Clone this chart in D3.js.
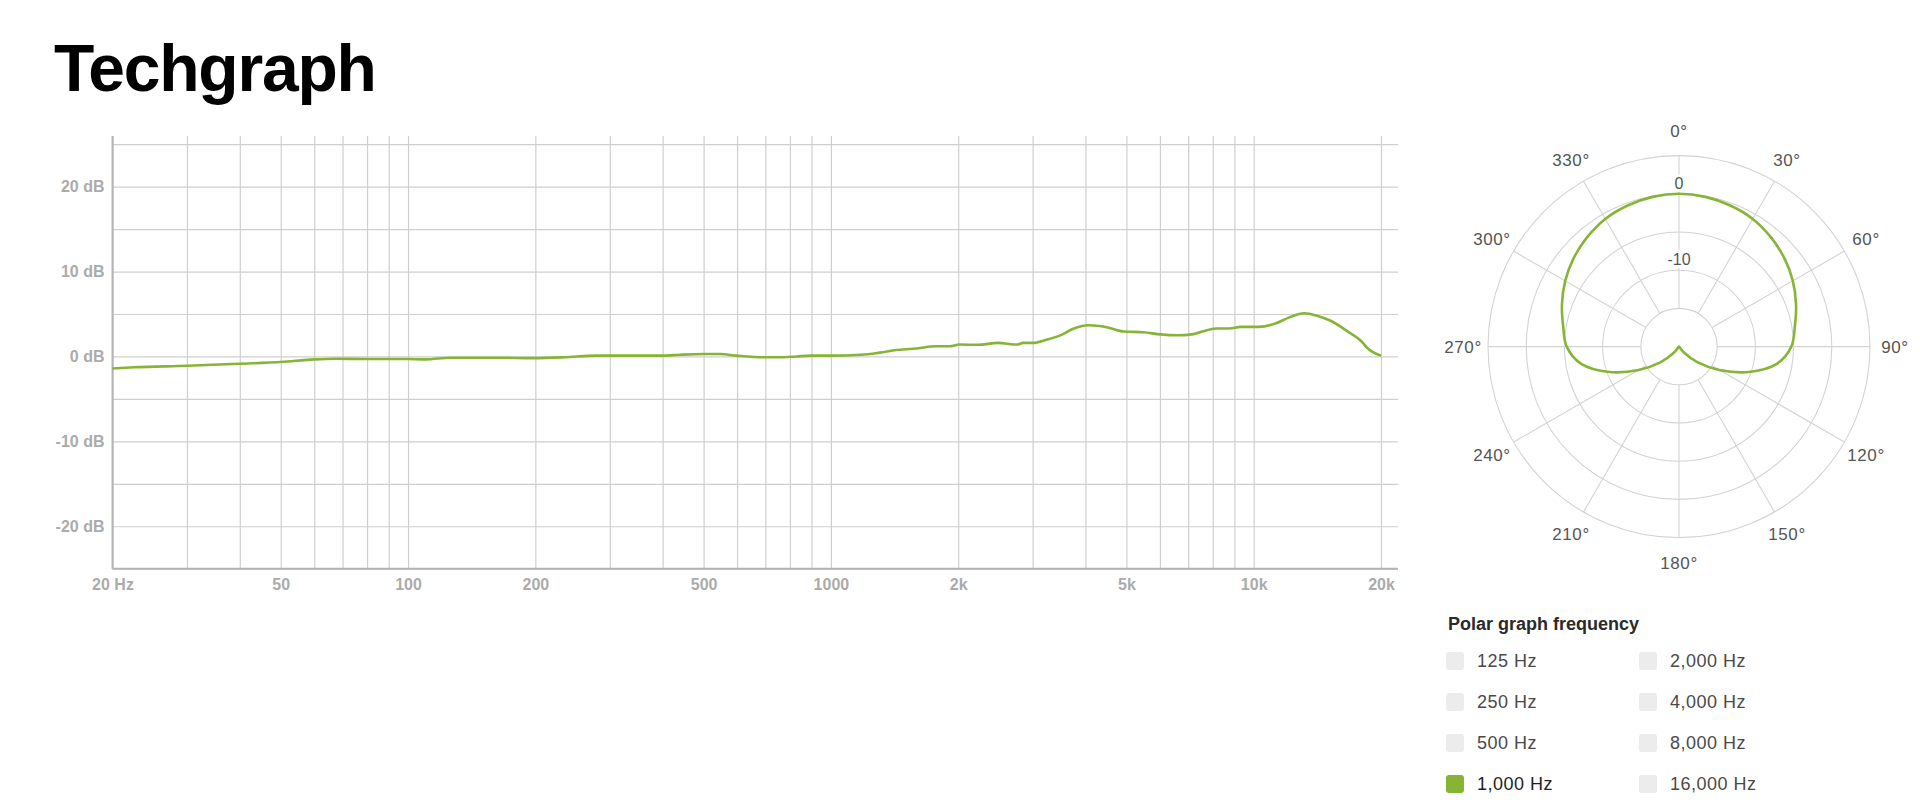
<!DOCTYPE html>
<html>
<head>
<meta charset="utf-8">
<script src="https://cdn.jsdelivr.net/npm/d3@7"></script>
<style>
  body { margin: 0; background: #fff; }
  svg { display: block; font-family: "Liberation Sans", Arial, sans-serif; }
</style>
</head>
<body>
<svg id="chart" width="1920" height="802"></svg>
<script>
// frequency response (1,000 Hz polar selected)
const freqHz = [20, 22.5, 30, 40, 50, 60, 67, 80, 99, 110, 126, 165, 198, 234, 279, 300, 400, 440, 500, 546,
  597, 691, 773, 829, 900, 1000, 1178, 1305, 1428, 1563, 1777, 1910, 2013, 2233, 2481, 2757, 2850, 3005, 3221, 3531,
  3720, 4080, 4490, 4935, 5484, 6015, 6602, 7143, 7548, 8140, 8758, 9300, 10260, 11290, 12140, 13180, 14100, 15200, 16700, 18000,
  18510, 20000];
const responseDb = [-1.42, -1.28, -1.1, -0.86, -0.66, -0.35, -0.27, -0.3, -0.3, -0.35, -0.15, -0.15, -0.2, -0.1, 0.1, 0.1, 0.1, 0.2, 0.28, 0.28,
  0.1, -0.1, -0.1, 0, 0.1, 0.1, 0.2, 0.45, 0.75, 0.9, 1.2, 1.2, 1.4, 1.37, 1.6, 1.4, 1.6, 1.6, 1.95, 2.6,
  3.2, 3.67, 3.44, 2.93, 2.85, 2.6, 2.5, 2.6, 2.93, 3.3, 3.3, 3.48, 3.48, 3.9, 4.6, 5.08, 4.8, 4.2, 2.93, 1.76,
  1.05, 0.08];
const freqLabels = [20, 50, 100, 200, 500, 1000, 2000, 5000, 10000, 20000];
const dbLabels = [-20, -10, 0, 10, 20];

// polar pattern at 1,000 Hz
const polarAngles = d3.range(0, 360, 10);
const polarDb = [0, -0.1, -0.35, -0.7, -1.3, -2.0, -2.8, -3.7, -4.6, -5.3, -7.0, -10.3, -13.9, -16.8, -19, -20, -20, -20,
  -20, -20, -20, -20, -19, -16.8, -13.9, -10.3, -7.0, -5.3, -4.6, -3.7, -2.8, -2.0, -1.3, -0.7, -0.35, -0.1];
const polarTicks = [0, 30, 60, 90, 120, 150, 180, 210, 240, 270, 300, 330];
const polarRingLabels = [0, -10];

const frequencies = ['125 Hz', '250 Hz', '500 Hz', '1,000 Hz', '2,000 Hz', '4,000 Hz', '8,000 Hz', '16,000 Hz'];
const selected = '1,000 Hz';

const green = '#86b535';
const svg = d3.select('#chart');

svg.append('text')
    .attr('x', 54)
    .attr('y', 91)
    .attr('font-size', 66)
    .attr('font-weight', 'bold')
    .attr('letter-spacing', -1.2)
    .attr('fill', '#000')
    .text('Techgraph');

// ---- frequency response ----
const plotLeft = 112.5;
const plotRight = 1398;
const plotTop = 136;
const plotBottom = 568.7;

const x = d3.scaleLog().domain([20, 20000]).range([plotLeft, 1381]);
const y = d3.scaleLinear().domain([-25, 25]).range([plotBottom, 144.2]);

const gridY = d3.axisLeft(y).tickValues(d3.range(-25, 26, 5)).tickSize(-(plotRight - plotLeft)).tickFormat('');
svg.append('g')
    .attr('class', 'grid')
    .attr('transform', `translate(${plotLeft},0)`)
    .call(gridY);

const gridX = d3.axisBottom(x).tickValues(x.ticks()).tickSize(-(plotBottom - plotTop)).tickFormat('');
svg.append('g')
    .attr('class', 'grid')
    .attr('transform', `translate(0,${plotBottom})`)
    .call(gridX);

svg.selectAll('.grid path.domain').remove();
svg.selectAll('.grid line')
    .attr('stroke', '#cfcfcf')
    .attr('stroke-width', 1.2);

svg.append('line')
    .attr('x1', plotLeft).attr('x2', plotLeft)
    .attr('y1', plotTop).attr('y2', plotBottom)
    .attr('stroke', '#b4b4b4')
    .attr('stroke-width', 2);
svg.append('line')
    .attr('x1', plotLeft).attr('x2', plotRight)
    .attr('y1', plotBottom).attr('y2', plotBottom)
    .attr('stroke', '#b4b4b4')
    .attr('stroke-width', 2);

const fmtFreq = (d) => {
  if (d === 20) return '20 Hz';
  if (d >= 2000) return (d / 1000) + 'k';
  return String(d);
};

const yAxis = d3.axisLeft(y).tickValues(dbLabels).tickSize(0).tickPadding(8).tickFormat((d) => d + ' dB');
svg.append('g')
    .attr('class', 'ticks')
    .attr('transform', `translate(${plotLeft},0)`)
    .call(yAxis);

const xAxis = d3.axisBottom(x).tickValues(freqLabels).tickSize(0).tickPadding(10).tickFormat(fmtFreq);
svg.append('g')
    .attr('class', 'ticks')
    .attr('transform', `translate(0,${plotBottom})`)
    .call(xAxis);

svg.selectAll('.ticks path.domain').remove();
svg.selectAll('.ticks text')
    .attr('font-family', '"Liberation Sans", Arial, sans-serif')
    .attr('font-size', 16)
    .attr('font-weight', 'bold')
    .attr('fill', '#ababab');

const line = d3.line()
    .curve(d3.curveMonotoneX)
    .x((d) => x(d[0]))
    .y((d) => y(d[1]));

svg.append('path')
    .datum(d3.zip(freqHz, responseDb))
    .attr('fill', 'none')
    .attr('stroke', green)
    .attr('stroke-width', 2.6)
    .attr('stroke-linejoin', 'round')
    .attr('d', line);

// ---- polar ----
const cx = 1679;
const cy = 346.6;
const r = d3.scaleLinear().domain([-20, 5]).range([0, 191]).clamp(true);
const gPolar = svg.append('g').attr('transform', `translate(${cx},${cy})`);

gPolar.selectAll('circle.ring')
    .data([-15, -10, -5, 0, 5])
    .join('circle')
    .attr('class', 'ring')
    .attr('r', (d) => r(d))
    .attr('fill', 'none')
    .attr('stroke', '#d3d3d3')
    .attr('stroke-width', 1.1);

const rad = (a) => a * Math.PI / 180;
gPolar.selectAll('line.spoke')
    .data(polarTicks)
    .join('line')
    .attr('class', 'spoke')
    .attr('x1', (d) => r(-15) * Math.sin(rad(d)))
    .attr('y1', (d) => -r(-15) * Math.cos(rad(d)))
    .attr('x2', (d) => r(5) * Math.sin(rad(d)))
    .attr('y2', (d) => -r(5) * Math.cos(rad(d)))
    .attr('stroke', '#d3d3d3')
    .attr('stroke-width', 1.1);

gPolar.selectAll('text.angle')
    .data(polarTicks)
    .join('text')
    .attr('class', 'angle')
    .attr('x', (d) => 216 * Math.sin(rad(d)))
    .attr('y', (d) => -216 * Math.cos(rad(d)))
    .attr('dy', '0.36em')
    .attr('text-anchor', 'middle')
    .attr('font-size', 17)
    .attr('letter-spacing', 0.6)
    .attr('fill', '#555')
    .text((d) => d + '°');

gPolar.selectAll('text.ring-label')
    .data(polarRingLabels)
    .join('text')
    .attr('class', 'ring-label')
    .attr('x', 0)
    .attr('y', (d) => -r(d) - 11)
    .attr('dy', '0.36em')
    .attr('text-anchor', 'middle')
    .attr('font-size', 16)
    .attr('fill', '#555')
    .attr('stroke', '#fff')
    .attr('stroke-width', 5)
    .attr('paint-order', 'stroke')
    .text((d) => d);

const radial = d3.lineRadial()
    .curve(d3.curveCatmullRomClosed.alpha(0.5))
    .angle((d) => rad(d[0]))
    .radius((d) => r(d[1]));

gPolar.append('path')
    .datum(d3.zip(polarAngles, polarDb))
    .attr('fill', 'none')
    .attr('stroke', green)
    .attr('stroke-width', 2.6)
    .attr('stroke-linejoin', 'round')
    .attr('d', radial);

// ---- legend ----
svg.append('text')
    .attr('x', 1448)
    .attr('y', 630)
    .attr('font-size', 18)
    .attr('font-weight', 'bold')
    .attr('fill', '#2a2a2a')
    .text('Polar graph frequency');

const legend = svg.append('g')
    .selectAll('g')
    .data(frequencies)
    .join('g')
    .attr('transform', (d, i) => `translate(${i < 4 ? 1446 : 1639},${661 + (i % 4) * 41})`);

legend.append('rect')
    .attr('x', 0)
    .attr('y', -9)
    .attr('width', 18)
    .attr('height', 18)
    .attr('rx', 3)
    .attr('fill', (d) => d === selected ? green : '#ececec');

legend.append('text')
    .attr('x', 31)
    .attr('y', 0)
    .attr('dy', '0.36em')
    .attr('font-size', 18)
    .attr('letter-spacing', 0.5)
    .attr('fill', (d) => d === selected ? '#222' : '#4a4a4a')
    .text((d) => d);
</script>
</body>
</html>
